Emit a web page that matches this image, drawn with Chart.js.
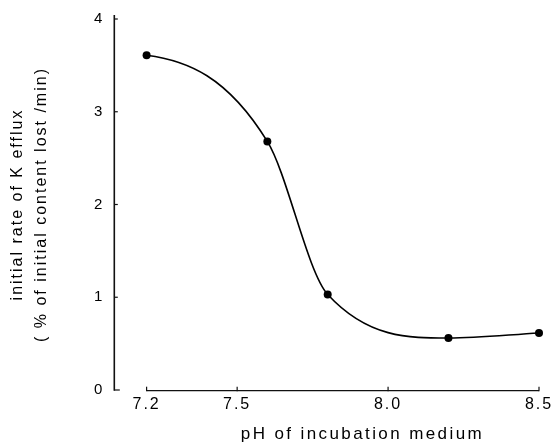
<!DOCTYPE html>
<html>
<head>
<meta charset="utf-8">
<style>
  html, body { margin: 0; padding: 0; background: #ffffff; }
  #wrap { width: 553px; height: 443px; position: relative; }
</style>
<script src="https://cdn.jsdelivr.net/npm/chart.js@4.4.1/dist/chart.umd.min.js"></script>
</head>
<body>
<div id="wrap"><canvas id="c" width="553" height="443"></canvas></div>
<script>
// ---- data ----
const phValues = [7.2, 7.6, 7.8, 8.2, 8.5];
const effluxRates = [3.61, 2.68, 1.03, 0.56, 0.615];
const xTickValues = [7.2, 7.5, 8.0, 8.5];
const xTickLabels = ['7.2', '7.5', '8.0', '8.5'];
const yTickValues = [0, 1, 2, 3, 4];
const yTickLabels = ['0', '1', '2', '3', '4'];
const xAxisTitle = 'pH of incubation medium';
const yAxisTitle = ['initial rate of K efflux', '( % of initial content lost /min)'];

const FONT = "'Liberation Sans', Arial, Helvetica, sans-serif";
const INK = '#000000';

const spacingPlugin = {
  id: 'letterSpacing',
  beforeUpdate(chart) { chart.ctx.letterSpacing = '2px'; },
  beforeLayout(chart) { chart.ctx.letterSpacing = '2px'; },
  beforeDraw(chart) { chart.ctx.letterSpacing = '2px'; }
};

// flatten the start of the hand-drawn curve (tangent at the first point)
const curvePlugin = {
  id: 'curveShape',
  beforeDatasetsDraw(chart) {
    const meta = chart.getDatasetMeta(0);
    const line = meta.dataset;
    line._pointsUpdated = false;
    line.updateControlPoints(chart.chartArea, 'x');
    const pts = meta.data;
    const p0 = pts[0], p1 = pts[1];
    p0.cp2x = p0.x + (p1.x - p0.x) / 3;
    p0.cp2y = p0.y + (p1.y - p0.y) * 0.06;
  }
};

const axesPlugin = {
  id: 'axesLines',
  beforeDatasetsDraw(chart) {
    const { ctx, scales: { x, y } } = chart;
    ctx.save();
    ctx.strokeStyle = '#111111';
    ctx.lineCap = 'butt';
    const ax = x.left;
    ctx.lineWidth = 1.6;
    ctx.beginPath();
    ctx.moveTo(ax, y.getPixelForValue(0) + 0.8);
    ctx.lineTo(ax, y.getPixelForValue(4) - 4);
    ctx.stroke();
    ctx.lineWidth = 1.2;
    yTickValues.forEach(v => {
      const py = y.getPixelForValue(v);
      ctx.beginPath();
      ctx.moveTo(ax, py);
      ctx.lineTo(ax + (v === 0 ? 5.5 : 3.5), py);
      ctx.stroke();
    });
    const base = y.getPixelForValue(0) + 0.7;
    ctx.lineWidth = 1.2;
    ctx.beginPath();
    ctx.moveTo(x.getPixelForValue(xTickValues[0]), base);
    ctx.lineTo(x.getPixelForValue(xTickValues[xTickValues.length - 1]), base);
    ctx.stroke();
    xTickValues.forEach(v => {
      const px = x.getPixelForValue(v);
      ctx.beginPath();
      ctx.moveTo(px, base + 0.5);
      ctx.lineTo(px, base - 4);
      ctx.stroke();
    });
    ctx.restore();
  },
  afterDraw(chart) {
    // x-axis title: in the reference it sits right of the axis centre
    const { ctx, scales: { x } } = chart;
    ctx.save();
    ctx.letterSpacing = '2.4px';
    ctx.font = '17px ' + FONT;
    ctx.fillStyle = INK;
    ctx.textAlign = 'center';
    ctx.textBaseline = 'alphabetic';
    ctx.fillText(xAxisTitle, x.getPixelForValue(7.915), 439);
    ctx.restore();
  }
};

new Chart(document.getElementById('c').getContext('2d'), {
  type: 'scatter',
  data: {
    datasets: [{
      data: phValues.map((p, i) => ({ x: p, y: effluxRates[i] })),
      showLine: true,
      borderColor: '#000000',
      borderWidth: 1.6,
      backgroundColor: '#000000',
      pointBackgroundColor: '#000000',
      pointBorderWidth: 0,
      pointRadius: 4,
      pointHoverRadius: 4,
      cubicInterpolationMode: 'monotone',
      fill: false,
      clip: false
    }]
  },
  options: {
    responsive: false,
    animation: false,
    devicePixelRatio: 1,
    layout: { padding: { left: 0, right: 14, top: 17.3, bottom: 0 } },
    plugins: { legend: { display: false }, tooltip: { enabled: false } },
    scales: {
      x: {
        type: 'linear',
        min: 7.093,
        max: 8.5,
        grid: { display: false, drawTicks: false },
        border: { display: false },
        afterBuildTicks(s) { s.ticks = xTickValues.map(v => ({ value: v })); },
        afterFit(s) { s.height = 53; s.paddingRight = 0; s.paddingLeft = 0; },
        ticks: {
          autoSkip: false,
          maxRotation: 0,
          padding: 5,
          color: INK,
          font: { family: FONT, size: 16 },
          callback: (v, i) => xTickLabels[i]
        },
        title: { display: false }
      },
      y: {
        type: 'linear',
        min: 0,
        max: 4,
        grid: { display: false, drawTicks: false },
        border: { display: false },
        afterBuildTicks(s) { s.ticks = yTickValues.map(v => ({ value: v })); },
        afterFit(s) { s.width = 114.3; },
        ticks: {
          autoSkip: false,
          padding: 10,
          color: INK,
          font: { family: FONT, size: 15 },
          callback: (v, i) => yTickLabels[i]
        },
        title: {
          display: true,
          text: yAxisTitle,
          color: INK,
          font: { family: FONT, size: 16, lineHeight: 1.5 },
          padding: { top: 6, bottom: 0 }
        }
      }
    }
  },
  plugins: [spacingPlugin, curvePlugin, axesPlugin]
});
</script>
</body>
</html>
